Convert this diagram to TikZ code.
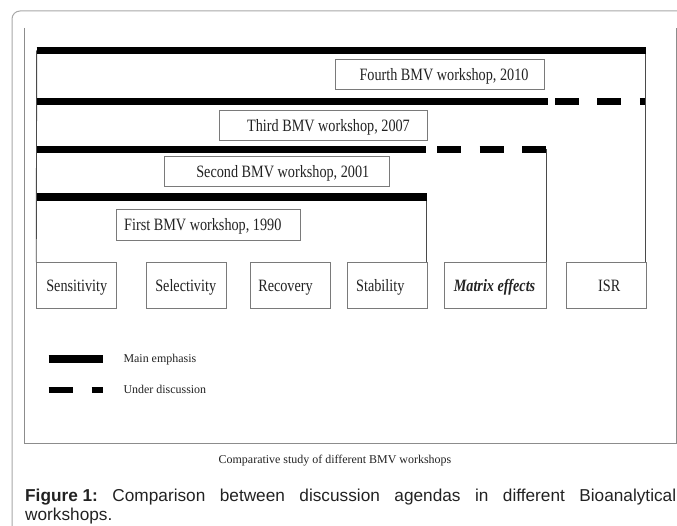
\documentclass[tikz,border=0pt]{standalone}
\usepackage{fontspec}
\setmainfont{Liberation Serif}
\newfontfamily\condserif[FakeStretch=0.82]{Liberation Serif}
\newfontfamily\capsans{Liberation Sans}
\definecolor{outergray}{HTML}{A8A8A8}
\definecolor{innergray}{HTML}{8C8C8C}
\definecolor{boxgray}{HTML}{7A7A7A}
\definecolor{conngray}{HTML}{4A4A4A}
\definecolor{txt}{HTML}{222222}
\begin{document}
\begin{tikzpicture}[x=1bp,y=-1bp,
  tshift/.style={execute at begin node={\hspace*{#1}}},
  wsbox/.style={draw=boxgray, line width=0.9bp, inner sep=0pt, minimum height=30.5bp,
    text height=11.5bp, text depth=0bp, text=txt,
    font=\condserif\fontsize{17.4}{20}\selectfont},
  itembox/.style={wsbox, minimum height=45.6bp},
  mainbar/.style={line width=7.3bp, black, line cap=butt},
  discbar/.style={line width=7.3bp, black, line cap=butt, dash pattern=on 24bp off 18.4bp},
  conn/.style={draw=conngray, line width=0.9bp},
  legtext/.style={anchor=base west, inner sep=0pt, text=txt, font=\fontsize{12}{14}\selectfont},
  figcap/.style={anchor=base west, inner sep=0pt, text=txt, font=\capsans\fontsize{17.3}{19}\selectfont}]
\useasboundingbox (0,0) rectangle (677,526);
\clip (0,0) rectangle (677,526);
% frames
\draw[outergray, line width=1bp, rounded corners=8bp] (720,11) -- (12,11) -- (12,560);
\draw[innergray, line width=0.9bp] (24.5,28) -- (24.5,443) -- (676.4,443) -- (676.4,28);
% workshop boxes
\node[wsbox, minimum width=209bp, tshift=9bp] (w4) at (439.5,74.3) {Fourth BMV workshop, 2010};
\node[wsbox, minimum width=208.4bp, tshift=10bp] (w3) at (323.5,125.7) {Third BMV workshop, 2007};
\node[wsbox, minimum width=225bp, tshift=12bp] (w2) at (276.8,171.7) {Second BMV workshop, 2001};
\node[wsbox, minimum width=184.7bp, tshift=-11bp] (w1) at (208.3,224.7) {First BMV workshop, 1990};
% item boxes
\node[itembox, minimum width=80bp] (sens) at (76.7,285.5) {Sensitivity};
\node[itembox, minimum width=80bp, tshift=-2bp] (sel) at (186.7,285.5) {Selectivity};
\node[itembox, minimum width=80bp, tshift=-9bp] (rec) at (290,285.5) {Recovery};
\node[itembox, minimum width=80bp, tshift=-14bp] (stab) at (387.3,285.5) {Stability};
\node[itembox, minimum width=102.4bp, tshift=-2bp] (mat) at (495.5,285.5) {\bfseries\itshape Matrix effects};
\node[itembox, minimum width=79.3bp, tshift=6bp] (isr) at (606.3,285.5) {ISR};
% bar coordinates
\coordinate (b1s) at (36.7,50.3);
\coordinate (b1e) at (645.6,50.3);
\coordinate (b2s) at (36.7,101.8);
\coordinate (b2m) at (547.7,101.8);
\coordinate (b2d) at (555,101.8);
\coordinate (b2e) at (644.6,101.8);
\coordinate (b3s) at (36.7,149.2);
\coordinate (b3m) at (425.7,149.2);
\coordinate (b3d) at (437.3,149.2);
\coordinate (b3e) at (546.7,149.2);
\coordinate (b4s) at (36.7,197);
\coordinate (b4e) at (426.9,197);
% connectors
\draw[conn] (b1s) -- (sens.north west);
\draw[conn] (b1e) -- (b1e |- isr.north);
\draw[conn] (b3e) -- (b3e |- mat.north);
\draw[conn] (b4e) -- (b4e |- stab.north);
% bars
\draw[mainbar] (b1s) -- (b1e);
\draw[mainbar] (b2s) -- (b2m);
\draw[discbar] (b2d) -- (b2e);
\draw[mainbar] (b3s) -- (b3m);
\draw[discbar] (b3d) -- (b3e);
\draw[mainbar] (b4s) -- (b4e);
% legend
\coordinate (l1s) at (48.7,359);
\coordinate (l1e) at (102.7,359);
\coordinate (l2a) at (48.7,389.7);
\coordinate (l2b) at (72.7,389.7);
\coordinate (l2c) at (91.7,389.7);
\coordinate (l2d) at (102.7,389.7);
\draw[line width=7.3bp, black] (l1s) -- (l1e);
\draw[line width=6bp, black] (l2a) -- (l2b);
\draw[line width=6bp, black] (l2c) -- (l2d);
\node[legtext] (lt1) at (123.3,362.7) {Main emphasis};
\node[legtext] (lt2) at (123.3,393.3) {Under discussion};
% captions
\node[anchor=base, inner sep=0pt, text=txt, font=\fontsize{12}{14}\selectfont] (cap1) at (335,463.3) {Comparative study of different BMV workshops};
\node[figcap] (cap2) at (25,501)
  {\makebox[651bp][s]{\mbox{\textbf{Figure 1:}} Comparison between discussion agendas in different Bioanalytical}};
\node[figcap] (cap3) at (25,520) {workshops.};
\end{tikzpicture}
\end{document}
